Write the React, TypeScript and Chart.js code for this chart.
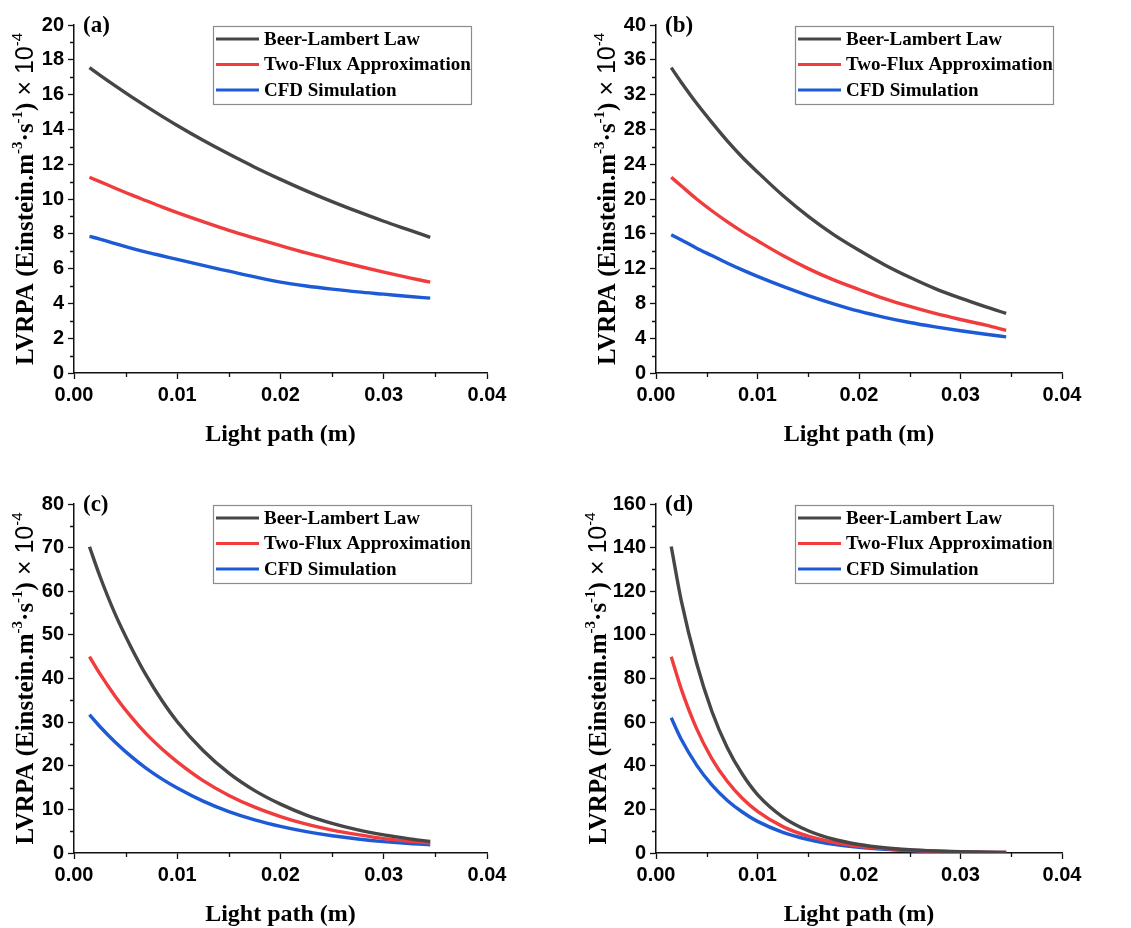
import React, { useEffect, useRef } from 'react';
import { Chart, registerables } from 'chart.js';

Chart.register(...registerables);

// ---------- DATA ----------
const xValues = [0.0015, 0.0025, 0.004, 0.0055, 0.007, 0.0085, 0.010, 0.0125, 0.015, 0.0175, 0.020, 0.0225, 0.025, 0.0275, 0.030, 0.0325, 0.0345];
const xTickLabels = ['0.00', '0.01', '0.02', '0.03', '0.04'];

const seriesNames = ['Beer-Lambert Law', 'Two-Flux Approximation', 'CFD Simulation'];
const seriesColors = ['#464646', '#f03c3c', '#1d5ad6'];

// panel (a)
const aBeer = [17.55, 17.12, 16.5, 15.9, 15.32, 14.76, 14.22, 13.37, 12.58, 11.83, 11.13, 10.47, 9.85, 9.27, 8.72, 8.21, 7.8];
const aFlux = [11.25, 11.0, 10.62, 10.25, 9.9, 9.55, 9.22, 8.7, 8.2, 7.75, 7.32, 6.9, 6.52, 6.15, 5.8, 5.47, 5.22];
const aCfd = [7.85, 7.7, 7.43, 7.18, 6.95, 6.74, 6.53, 6.18, 5.85, 5.52, 5.22, 5.0, 4.82, 4.66, 4.53, 4.4, 4.3];
// panel (b)
const bBeer = [35.1, 33.4, 31.0, 28.8, 26.7, 24.8, 23.1, 20.4, 18.0, 15.9, 14.1, 12.45, 11.0, 9.7, 8.6, 7.6, 6.85];
const bFlux = [22.5, 21.5, 20.0, 18.65, 17.4, 16.25, 15.2, 13.5, 12.0, 10.7, 9.6, 8.55, 7.65, 6.85, 6.15, 5.5, 4.9];
const bCfd = [15.9, 15.3, 14.35, 13.5, 12.65, 11.85, 11.1, 9.95, 8.9, 7.95, 7.1, 6.4, 5.8, 5.3, 4.85, 4.45, 4.15];
// panel (c)
const cBeer = [70.2, 63.5, 54.7, 47.3, 40.7, 35.0, 30.1, 23.5, 18.3, 14.3, 11.2, 8.7, 6.8, 5.3, 4.15, 3.25, 2.65];
const cFlux = [45.0, 41.1, 35.9, 31.3, 27.3, 23.9, 20.9, 16.6, 13.2, 10.5, 8.35, 6.6, 5.25, 4.2, 3.3, 2.7, 2.3];
const cCfd = [31.7, 29.0, 25.4, 22.2, 19.4, 17.0, 14.9, 11.9, 9.5, 7.6, 6.1, 4.9, 3.95, 3.2, 2.6, 2.15, 1.9];
// panel (d)
const dBeer = [140.5, 115.5, 87.0, 65.0, 48.5, 36.2, 26.8, 16.5, 10.2, 6.3, 3.9, 2.4, 1.5, 0.95, 0.6, 0.38, 0.27];
const dFlux = [90.0, 75.0, 57.0, 43.3, 33.0, 25.1, 19.1, 12.1, 7.7, 4.9, 3.1, 2.0, 1.25, 0.8, 0.5, 0.32, 0.22];
const dCfd = [62.0, 52.0, 40.3, 31.2, 24.2, 18.8, 14.5, 9.5, 6.2, 4.0, 2.6, 1.7, 1.1, 0.7, 0.45, 0.3, 0.2];

const panelLabels = ['(a)', '(b)', '(c)', '(d)'];
const yMaxes = [20, 40, 80, 160];
const ySteps = [2, 4, 10, 20];

// ---------- LAYOUT ----------
const panels = [
  { label: panelLabels[0], yMax: yMaxes[0], yStep: ySteps[0], series: [aBeer, aFlux, aCfd],
    left: 0, top: 0, width: 560, height: 460, area: { left: 74, top: 25, right: 487, bottom: 373 }, titleOff: 50 },
  { label: panelLabels[1], yMax: yMaxes[1], yStep: ySteps[1], series: [bBeer, bFlux, bCfd],
    left: 560, top: 0, width: 571, height: 460, area: { left: 96, top: 25, right: 502, bottom: 373 }, titleOff: 50 },
  { label: panelLabels[2], yMax: yMaxes[2], yStep: ySteps[2], series: [cBeer, cFlux, cCfd],
    left: 0, top: 460, width: 560, height: 468, area: { left: 74, top: 44, right: 487, bottom: 393 }, titleOff: 50 },
  { label: panelLabels[3], yMax: yMaxes[3], yStep: ySteps[3], series: [dBeer, dFlux, dCfd],
    left: 560, top: 460, width: 571, height: 468, area: { left: 96, top: 44, right: 502, bottom: 393 }, titleOff: 59 },
];

const SERIF = '"Liberation Serif", "Times New Roman", serif';
const SANS = '"Liberation Sans", Arial, sans-serif';
const AXIS_COLOR = '#111';

const decorPlugin = {
  id: 'decor',
  afterDraw(chart: any, _args: any, opts: any) {
    const p = opts.panel;
    const { ctx, chartArea: a, scales } = chart;
    const xs = scales.x;
    const ys = scales.y;
    ctx.save();

    // minor ticks
    ctx.strokeStyle = AXIS_COLOR;
    ctx.lineWidth = 1.3;
    ctx.beginPath();
    for (let i = 0; i < 4; i++) {
      const px = Math.round(xs.getPixelForValue(0.005 + i * 0.01)) + 0.5;
      ctx.moveTo(px, a.bottom);
      ctx.lineTo(px, a.bottom + 4);
    }
    const n = Math.round(p.yMax / p.yStep);
    for (let i = 0; i < n; i++) {
      const py = Math.round(ys.getPixelForValue((i + 0.5) * p.yStep)) + 0.5;
      ctx.moveTo(a.left - 4, py);
      ctx.lineTo(a.left, py);
    }
    ctx.stroke();

    // panel label
    ctx.fillStyle = '#000';
    ctx.font = `bold 23px ${SERIF}`;
    ctx.textAlign = 'left';
    ctx.textBaseline = 'middle';
    ctx.fillText(p.label, a.left + 9, a.top + 1);

    // legend
    const lx = a.left + 139;
    const ly = a.top + 1;
    const lw = 258;
    const lh = 78;
    ctx.fillStyle = '#fff';
    ctx.fillRect(lx, ly, lw, lh);
    ctx.strokeStyle = '#8c8c8c';
    ctx.lineWidth = 1.2;
    ctx.strokeRect(lx + 0.5, ly + 0.5, lw, lh);
    ctx.font = `bold 19px ${SERIF}`;
    ctx.textBaseline = 'middle';
    ctx.textAlign = 'left';
    for (let i = 0; i < 3; i++) {
      const yy = ly + 13 + i * 25.5;
      ctx.strokeStyle = seriesColors[i];
      ctx.lineWidth = 3.2;
      ctx.beginPath();
      ctx.moveTo(lx + 3, yy);
      ctx.lineTo(lx + 46, yy);
      ctx.stroke();
      ctx.fillStyle = '#000';
      ctx.fillText(seriesNames[i], lx + 51, yy + 1);
    }

    // x title
    ctx.font = `bold 24px ${SERIF}`;
    ctx.textAlign = 'center';
    ctx.textBaseline = 'middle';
    ctx.fillStyle = '#000';
    ctx.fillText('Light path (m)', (a.left + a.right) / 2, a.bottom + 62);

    // y title with superscripts
    const main = `bold 25px ${SERIF}`;
    const sup = `bold 15px ${SERIF}`;
    const sans = `25px ${SANS}`;
    const supSans = `15px ${SANS}`;
    const segs: [string, string, boolean][] = [
      ['LVRPA (Einstein.m', main, false],
      ['-3', sup, true],
      ['\u00B7s', main, false],
      ['-1', sup, true],
      [')', main, false],
      [' \u00D7 10', sans, false],
      ['-4', supSans, true],
    ];
    let total = 0;
    const widths: number[] = [];
    for (const s of segs) {
      ctx.font = s[1];
      const w = ctx.measureText(s[0]).width;
      widths.push(w);
      total += w;
    }
    ctx.translate(a.left - p.titleOff, (a.top + a.bottom) / 2);
    ctx.rotate(-Math.PI / 2);
    ctx.textAlign = 'left';
    ctx.textBaseline = 'alphabetic';
    let x = -total / 2;
    segs.forEach((s, i) => {
      ctx.font = s[1];
      ctx.fillText(s[0], x, s[2] ? 8.5 - 10.5 : 8.5);
      x += widths[i];
    });

    ctx.restore();
  },
};

function Panel({ cfg }: { cfg: any }) {
  const ref = useRef<HTMLCanvasElement | null>(null);
  useEffect(() => {
    const canvas = ref.current;
    if (!canvas) return;
    const datasets = cfg.series.map((vals: number[], i: number) => ({
      label: seriesNames[i],
      data: xValues.map((xv, j) => ({ x: xv, y: vals[j] })),
      borderColor: seriesColors[i],
      backgroundColor: seriesColors[i],
      borderWidth: 3.4,
      pointRadius: 0,
      cubicInterpolationMode: 'monotone',
      fill: false,
    }));
    const a = cfg.area;
    const chart = new Chart(canvas, {
      type: 'line',
      data: { datasets },
      options: {
        animation: false,
        responsive: false,
        devicePixelRatio: 1,
        layout: { padding: { left: 0, top: a.top, right: cfg.width - a.right, bottom: 0 } },
        plugins: {
          legend: { display: false },
          tooltip: { enabled: false },
          decor: { panel: cfg },
        } as any,
        scales: {
          x: {
            type: 'linear',
            min: 0,
            max: 0.04,
            afterFit: (s: any) => { s.height = cfg.height - a.bottom; },
            afterBuildTicks: (s: any) => {
              s.ticks = xTickLabels.map((t) => ({ value: parseFloat(t) }));
            },
            ticks: {
              callback: (v: any) => Number(v).toFixed(2),
              font: { family: SANS, weight: 'bold', size: 20 },
              color: '#000',
              padding: 4,
              maxRotation: 0,
              autoSkip: false,
            },
            grid: { drawOnChartArea: false, drawTicks: true, tickLength: 6, tickColor: AXIS_COLOR, tickWidth: 1.3 },
            border: { display: true, color: AXIS_COLOR, width: 1.5 },
          },
          y: {
            type: 'linear',
            min: 0,
            max: cfg.yMax,
            afterFit: (s: any) => { s.width = a.left; },
            ticks: {
              stepSize: cfg.yStep,
              font: { family: SANS, weight: 'bold', size: 20 },
              color: '#000',
              padding: 4,
              autoSkip: false,
            },
            grid: { drawOnChartArea: false, drawTicks: true, tickLength: 6, tickColor: AXIS_COLOR, tickWidth: 1.3 },
            border: { display: true, color: AXIS_COLOR, width: 1.5 },
          },
        },
      } as any,
      plugins: [decorPlugin],
    });
    return () => chart.destroy();
  }, [cfg]);
  return (
    <canvas
      ref={ref}
      width={cfg.width}
      height={cfg.height}
      style={{ position: 'absolute', left: cfg.left, top: cfg.top, width: cfg.width, height: cfg.height }}
    />
  );
}

export default function App() {
  return (
    <div style={{ position: 'absolute', left: 0, top: 0, width: 1131, height: 928, background: '#fff', overflow: 'hidden' }}>
      {panels.map((p, i) => (
        <Panel key={i} cfg={p} />
      ))}
    </div>
  );
}
